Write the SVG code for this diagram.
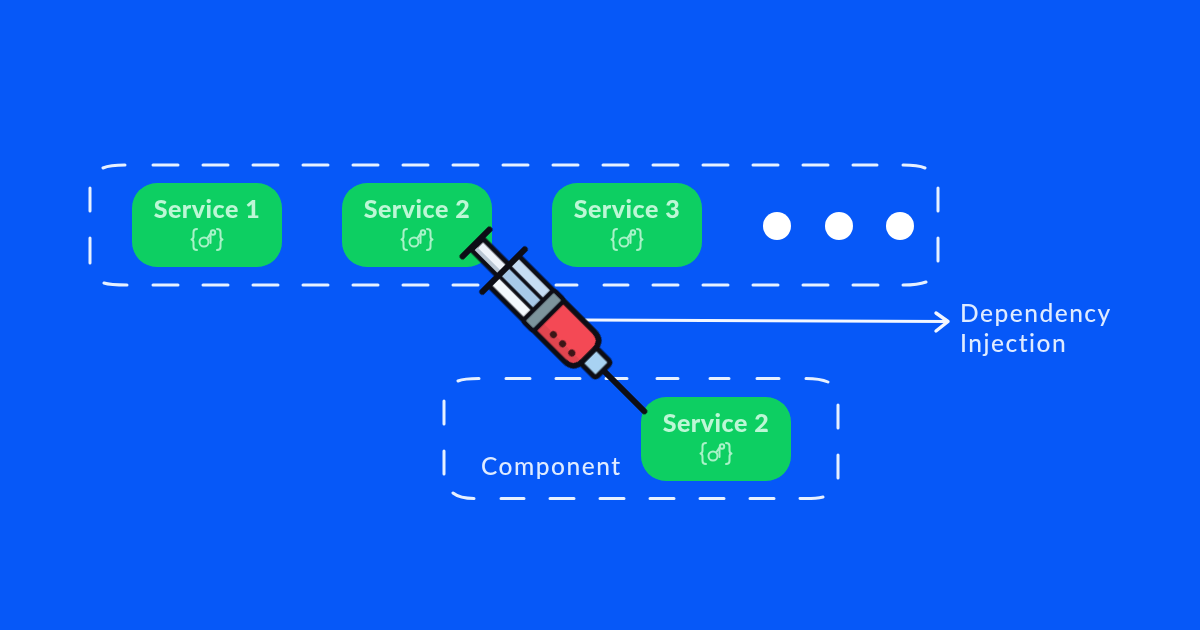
<svg xmlns="http://www.w3.org/2000/svg" width="1200" height="630" viewBox="0 0 1200 630">
<style>
.dash{fill:none;stroke:#e6f0ff;stroke-width:3;stroke-linecap:round}
.box{fill:#10cf62}
.svc{font-family:"Lato","Liberation Sans",sans-serif;font-weight:900;font-size:25px;fill:#bdf7d6;text-anchor:middle;letter-spacing:.5px}
.lbl{font-family:"Lato","Liberation Sans",sans-serif;font-weight:500;font-size:24.500px;fill:#dfebff;letter-spacing:1.500px}
.ic{fill:none;stroke:#a9f2c8;stroke-width:2;stroke-linecap:round;stroke-linejoin:round}
.k{stroke:#0b0b12;stroke-linecap:round;stroke-linejoin:round}
</style>
<defs>
<filter id="soft" x="-2%" y="-2%" width="104%" height="104%"><feGaussianBlur stdDeviation=".55"/></filter>
<symbol id="icon" viewBox="0 0 36 26" width="36" height="26" overflow="visible">
<path class="ic" d="M8 2Q4.500 2 4.500 5V9.500Q4.500 12 2.500 12.500Q4.500 13 4.500 15.500V20Q4.500 23 8 23"/>
<path class="ic" d="M28 2Q31.500 2 31.500 5V9.500Q31.500 12 33.500 12.500Q31.500 13 31.500 15.500V20Q31.500 23 28 23"/>
<circle class="ic" cx="15" cy="15" r="4.500"/>
<path class="ic" d="M18.500 11L21.500 6.500V16"/>
<circle class="ic" cx="24" cy="5.500" r="2.200"/>
</symbol>
</defs>
<rect width="1200" height="630" fill="#0658f8"/>
<g filter="url(#soft)">
<g id="services-container">
<path class="dash" d="M103 168Q110 165 125 165M153 165H178M203 165H228M253 165H278M303 165H328M353 165H378M403 165H428M453 165H478M503 165H528M553 165H578M603 165H628M653 165H678M703 165H728M753 165H778M803 165H828M853 165H877M903 165Q918 165 925 168"/>
<path class="dash" d="M104 283Q110 285 127 285M153 285H178M203 285H228M253 285H278M303 285H328M353 285H378M403 285H428M453 285H478M556 285H577M604 285H628M653 285H678M703 285H728M753 285H778M803 285H828M853 285H878M903 285Q918 285 926 282"/>
<path class="dash" d="M90 188V211M90 238V263M938 188V211M938 238V261"/>
</g>

<g id="component-container">
<path class="dash" d="M458 381Q464 378.500 479 378.500M506 378.500H530M556 378.500H580M606 378.500H627M657 378.500H678M710 378.500H729M757 378.500H779M806 378.500Q820 378.500 828 382"/>
<path class="dash" d="M453 493Q460 498.500 474 498.500M501 498.500H524M550 498.500H574M600 498.500H624M650 498.500H674M700 498.500H724M750 498.500H774M800 498.500Q815 499 823 497"/>
<path class="dash" d="M444 401V424M444 451V474M838 405V428M838 455V478"/>
<text class="lbl" x="481" y="475">Component</text>
</g>

<g id="service-1"><rect class="box" x="132" y="183" width="150" height="84" rx="25"/><text class="svc" x="207" y="218">Service 1</text><use href="#icon" x="189" y="227"/></g>
<g id="service-2"><rect class="box" x="342" y="183" width="150" height="84" rx="25"/><text class="svc" x="417" y="218">Service 2</text><use href="#icon" x="399" y="227"/></g>
<g id="service-3"><rect class="box" x="552" y="183" width="150" height="84" rx="25"/><text class="svc" x="627" y="218">Service 3</text><use href="#icon" x="609" y="227"/></g>
<g id="more"><circle cx="777" cy="226" r="14" fill="#fff"/><circle cx="839" cy="226" r="14" fill="#fff"/><circle cx="900" cy="226" r="14" fill="#fff"/></g>
<g id="service-2-injected"><rect class="box" x="641" y="397" width="150" height="84" rx="25"/><text class="svc" x="716" y="432">Service 2</text><use href="#icon" x="698" y="441"/></g>

<g id="connectors">
<path d="M585 320L948 321.500" fill="none" stroke="#f2f6ff" stroke-width="3"/>
<path d="M936 313L948 321.500L936 331" fill="none" stroke="#f2f6ff" stroke-width="3.400" stroke-linecap="round" stroke-linejoin="round"/>
</g>

<g id="dependency-injection"><text class="lbl" x="960" y="322">Dependency</text><text class="lbl" x="960" y="352">Injection</text></g>

<g id="syringe" transform="translate(476 243) rotate(45)">
<path class="k" d="M176 0H238" stroke-width="6" fill="none"/>
<rect class="k" x="155" y="-11" width="25" height="22" rx="3" fill="#a8d2f2" stroke-width="5"/>
<rect class="k" x="2" y="-8" width="42" height="16" fill="#eef3fa" stroke-width="5"/>
<rect x="4" y="2" width="38" height="4" fill="#b9c6d4"/>
<rect class="k" x="39" y="-21" width="58" height="42" fill="#f4f8fd" stroke-width="5"/>
<rect x="42" y="-18.500" width="52" height="13" fill="#c6dcf3"/>
<rect class="k" x="39" y="-7" width="50" height="14" fill="#a7c8e8" stroke-width="3.500"/>
<path class="k" d="M98 -21H146Q159 -21 159 -8V8Q159 21 146 21H98Z" fill="#f44a55" stroke-width="5.500"/>
<path d="M100 9H156Q156 18.500 145 18.500H100Z" fill="#e04550"/>
<rect class="k" x="88" y="-22" width="15" height="44" rx="3" fill="#7c949c" stroke-width="4.500"/>
<path class="k" d="M39 -30V30" stroke-width="6" fill="none"/>
<path class="k" d="M0 -19V19" stroke-width="6" fill="none"/>
<circle cx="119.500" cy="10" r="3.500" fill="#3a1418"/><circle cx="132.500" cy="10" r="3.500" fill="#3a1418"/><circle cx="145.500" cy="10" r="3.500" fill="#3a1418"/>
</g>
</g>
</svg>
